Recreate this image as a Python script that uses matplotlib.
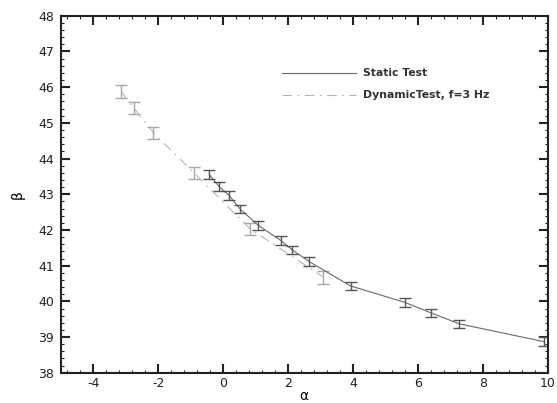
import matplotlib
matplotlib.use("Agg")
import matplotlib.pyplot as plt
from matplotlib.ticker import MultipleLocator

plt.rcParams['font.family'] = ['DejaVu Sans']
plt.rcParams['axes.unicode_minus'] = False

# Static test data
static_alpha = [-0.43, -0.12, 0.19, 0.52, 1.08, 1.77, 2.13, 2.66, 3.93, 5.61, 6.40, 7.28, 9.90]
static_beta = [43.55, 43.21, 42.96, 42.59, 42.13, 41.71, 41.44, 41.11, 40.43, 39.97, 39.68, 39.37, 38.87]
static_err = [0.12, 0.12, 0.12, 0.12, 0.12, 0.12, 0.12, 0.12, 0.12, 0.12, 0.12, 0.12, 0.12]

# Dynamic test data (f = 3 Hz)
dyn_alpha = [-3.14, -2.75, -2.15, -0.89, 0.83, 3.09]
dyn_beta = [45.87, 45.41, 44.72, 43.59, 42.03, 40.68]
dyn_err = [0.18, 0.17, 0.17, 0.16, 0.17, 0.18]

labels = ["Static Test", "DynamicTest, f=3 Hz"]

fig = plt.figure(figsize=(5.57, 4.03), dpi=100)
ax = fig.add_axes([0.1095, 0.075, 0.8735, 0.886])

dashdot = (0, (8.6, 5, 1.5, 5))
ax.plot(dyn_alpha, dyn_beta, color='#b4b4b4', lw=0.8, linestyle=dashdot)
ax.errorbar(dyn_alpha, dyn_beta, yerr=dyn_err, fmt='none', ecolor='#a8a8a8',
            elinewidth=1.0, capsize=4.5, capthick=1.0)

ax.plot(static_alpha, static_beta, color='#6a6a6a', lw=0.8)
ax.errorbar(static_alpha, static_beta, yerr=static_err, fmt='none', ecolor='#555555',
            elinewidth=1.0, capsize=4.5, capthick=1.0)

# legend drawn manually
ax.plot([0.454, 0.606], [0.840, 0.840], transform=ax.transAxes, color='#6a6a6a', lw=0.8)
ax.plot([0.454, 0.606], [0.778, 0.778], transform=ax.transAxes, color='#b4b4b4', lw=0.8,
        linestyle=dashdot)
ax.text(0.621, 0.840, labels[0], transform=ax.transAxes, fontsize=7.8, fontweight='bold',
        va='center', ha='left', color='#333333')
ax.text(0.621, 0.778, labels[1], transform=ax.transAxes, fontsize=7.8, fontweight='bold',
        va='center', ha='left', color='#333333')

ax.set_xlim(-5, 10)
ax.set_ylim(38, 48)
ax.xaxis.set_major_locator(MultipleLocator(2))
ax.xaxis.set_minor_locator(MultipleLocator(0.4))
ax.yaxis.set_major_locator(MultipleLocator(1))
ax.yaxis.set_minor_locator(MultipleLocator(0.2))

ax.tick_params(which='both', direction='in', top=True, right=True, colors='#222222')
ax.tick_params(which='major', length=6.7, width=1.5, labelsize=9)
ax.tick_params(axis='x', which='major', pad=3)
ax.tick_params(axis='y', which='major', pad=5)
ax.tick_params(which='minor', length=2.5, width=0.8)
for s in ax.spines.values():
    s.set_linewidth(1.5)
    s.set_color('#222222')

ax.set_xlabel('α', fontsize=10, labelpad=-1)
ax.set_ylabel('β', fontsize=10, labelpad=10)

fig.savefig('out.png', dpi=100)
